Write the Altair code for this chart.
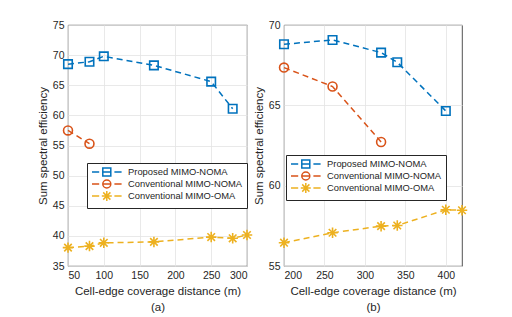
import altair as alt
import pandas as pd

series = ["Proposed MIMO-NOMA", "Conventional MIMO-NOMA", "Conventional MIMO-OMA"]
colors = ["#0072BD", "#D95319", "#EDB120"]

# Panel (a)
a_prop_x = [50, 80, 100, 170, 250, 280]
a_prop_y = [68.5, 68.9, 69.8, 68.3, 65.6, 61.1]
a_conv_x = [50, 80]
a_conv_y = [57.5, 55.3]
a_oma_x = [50, 80, 100, 170, 250, 280, 300]
a_oma_y = [38.05, 38.3, 38.85, 39.0, 39.8, 39.6, 40.15]

# Panel (b)
b_prop_x = [200, 260, 320, 340, 400]
b_prop_y = [68.8, 69.07, 68.28, 67.68, 64.65]
b_conv_x = [200, 260, 320]
b_conv_y = [67.35, 66.17, 62.72]
b_oma_x = [200, 260, 320, 340, 400, 420]
b_oma_y = [56.45, 57.07, 57.48, 57.52, 58.5, 58.47]

FONT = "Liberation Sans"
TXT = "#262626"

# marker shapes (plot)
SQ = "M-1,-1L1,-1L1,1L-1,1Z"
CIRC = "M-1,0A1,1 0 1,1 1,0A1,1 0 1,1 -1,0Z"
AST = "M-1,0L1,0M0,-1L0,1M-0.72,-0.72L0.72,0.72M-0.72,0.72L0.72,-0.72"
markers = [SQ, CIRC, AST]
msizes = [72, 80, 110]

# legend symbols: dash, marker, dash (marker centred at 2.7)
LEG_DASH = "M-1,0L0.8,0M4.6,0L6.4,0"
LEG_SQ = LEG_DASH + "M1.7,-1L3.7,-1L3.7,1L1.7,1ZM1.7,0L3.7,0"
LEG_CI = LEG_DASH + "M1.7,0A1,1 0 1,1 3.7,0A1,1 0 1,1 1.7,0ZM1.7,0L3.7,0"
LEG_AS = LEG_DASH + ("M1.45,0L3.95,0M2.7,-1.25L2.7,1.25"
                     "M1.8,-0.9L3.6,0.9M1.8,0.9L3.6,-0.9")
leg_shapes = [LEG_SQ, LEG_CI, LEG_AS]


def make_df(xs_list, ys_list):
    rows = []
    for s, xs, ys in zip(series, xs_list, ys_list):
        for x, y in zip(xs, ys):
            rows.append({"series": s, "x": x, "y": y})
    return pd.DataFrame(rows)


def panel(df, xdom, xticks, ydom, yticks, label, lx, ly, w, h):
    x = alt.X("x:Q", scale=alt.Scale(domain=xdom, nice=False, zero=False),
              axis=alt.Axis(values=xticks, title=["Cell-edge coverage distance (m)", label]))
    y = alt.Y("y:Q", scale=alt.Scale(domain=ydom, nice=False, zero=False),
              axis=alt.Axis(values=yticks, title="Sum spectral efficiency"))
    base = alt.Chart(df)
    layers = []
    for s, c in zip(series, colors):
        layers.append(base.transform_filter(alt.datum.series == s).mark_line(
            strokeDash=[6, 4], strokeWidth=1.5, color=c, clip=False).encode(x=x, y=y))
    for s, c, m, sz in zip(series, colors, markers, msizes):
        layers.append(base.transform_filter(alt.datum.series == s).mark_point(
            shape=m, filled=False, size=sz, strokeWidth=1.6, color=c, opacity=1, clip=False
        ).encode(x=x, y=y))
    leg = alt.Legend(orient="none", legendX=lx, legendY=ly, title=None,
                     labelFont=FONT, labelFontSize=9.4, labelColor=TXT,
                     symbolSize=64, symbolStrokeWidth=1.5, symbolOpacity=1,
                     labelOffset=27, rowPadding=-4, padding=4,
                     strokeColor=TXT, fillColor="white", labelLimit=300)
    legl = base.transform_filter("false").mark_point(filled=False, opacity=1).encode(
        x=x, y=y,
        color=alt.Color("series:N", scale=alt.Scale(domain=series, range=colors), legend=leg),
        shape=alt.Shape("series:N", scale=alt.Scale(domain=series, range=leg_shapes), legend=leg),
    )
    layers.append(legl)
    return alt.layer(*layers).properties(width=w, height=h)


dfa = make_df([a_prop_x, a_conv_x, a_oma_x], [a_prop_y, a_conv_y, a_oma_y])
dfb = make_df([b_prop_x, b_conv_x, b_oma_x], [b_prop_y, b_conv_y, b_oma_y])

pa = panel(dfa, [50, 300], [50, 100, 150, 200, 250, 300], [35, 75],
           [35, 40, 45, 50, 55, 60, 65, 70, 75], "(a)", 19, 138, 179, 241)
pb = panel(dfb, [200, 420], [200, 250, 300, 350, 400], [55, 70],
           [55, 60, 65, 70], "(b)", 2, 130, 178, 241)

chart = alt.hconcat(pa, pb, spacing=-4).resolve_scale(
    color="independent", shape="independent"
).properties(
    padding={"left": 28, "top": 11, "right": 5, "bottom": 5}
).configure_view(
    stroke=TXT, strokeWidth=0.8
).configure_axis(
    grid=True, gridColor="#e3e3e3", gridWidth=0.8,
    domain=False, ticks=False,
    labelFont=FONT, labelFontSize=10.5, labelColor=TXT, labelPadding=4,
    titleFont=FONT, titleFontSize=11.5, titleFontWeight="normal", titleColor=TXT,
    titlePadding=4, titleLineHeight=16
).configure_axisX(titlePadding=5)

chart.save("out.html", embed_options={"renderer": "svg", "actions": False})
